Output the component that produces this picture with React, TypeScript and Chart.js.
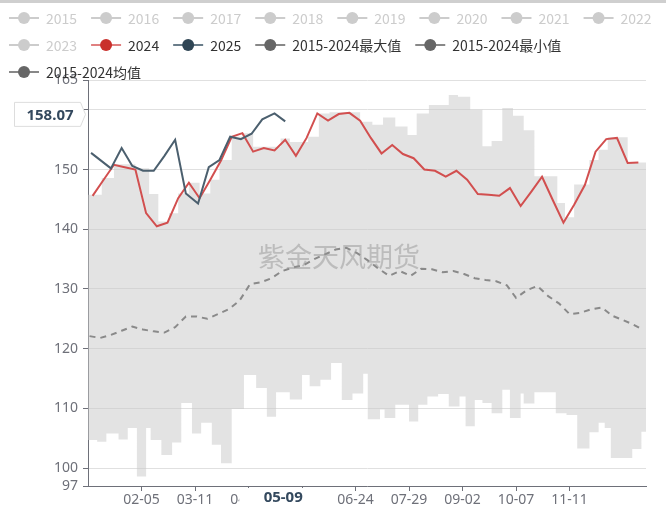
import React, { useEffect, useRef } from 'react';
import { Chart, registerables } from 'chart.js';

Chart.register(...registerables);

const FONT = '"Noto Sans", "Noto Sans CJK SC", sans-serif';
const CJK = '"Noto Sans CJK SC", "Noto Sans", sans-serif';

// x axis: day index within a (leap) year, 0 = 01-01
const tickDays = [35, 70, 105, 140, 175, 210, 245, 280, 315];
const tickLabels = ['02-05', '03-11', '04-15', '05-20', '06-24', '07-29', '09-02', '10-07', '11-11'];
const yTicks = [97, 100, 110, 120, 130, 140, 150, 160, 165];

const hiddenYears = ['2015', '2016', '2017', '2018', '2019', '2020', '2021', '2022', '2023'];

const days2024 = [3, 10, 17, 24, 31, 38, 45, 52, 59, 66, 73, 80, 87, 94, 101, 108, 115, 122, 129, 136, 143, 150, 157, 164, 171, 178, 185, 192, 199, 206, 213, 220, 227, 234, 241, 248, 255, 262, 269, 276, 283, 290, 297, 304, 311, 318, 325, 332, 339, 346, 353, 360];
const values2024 = [145.6, 148.2, 150.8, 150.4, 150.0, 142.7, 140.5, 141.1, 145.2, 147.8, 145.2, 148.3, 151.5, 155.5, 156.1, 153.0, 153.6, 153.2, 155.0, 152.3, 155.3, 159.4, 158.2, 159.3, 159.5, 158.2, 155.3, 152.7, 154.1, 152.6, 151.9, 150.0, 149.8, 148.8, 149.8, 148.3, 145.9, 145.8, 145.6, 146.9, 143.9, 146.3, 148.8, 144.9, 141.1, 144.1, 147.4, 153.0, 155.1, 155.3, 151.1, 151.2];

const days2025 = [2, 15, 22, 29, 36, 43, 50, 57, 64, 72, 79, 86, 93, 100, 107, 114, 122, 129];
const values2025 = [152.8, 150.2, 153.6, 150.6, 149.8, 149.8, 152.3, 155.0, 146.0, 144.3, 150.4, 151.6, 155.5, 155.1, 156.0, 158.4, 159.4, 158.07];

const avgDays = [1, 8, 15, 22, 29, 36, 43, 50, 57, 64, 71, 78, 85, 92, 99, 106, 113, 120, 127, 134, 141, 148, 155, 162, 169, 176, 183, 190, 197, 204, 211, 218, 225, 232, 239, 246, 253, 260, 267, 274, 280, 287, 294, 301, 308, 315, 322, 329, 336, 343, 350, 357, 362];
const avgValues = [122.1, 121.8, 122.3, 123.0, 123.7, 123.2, 122.9, 122.7, 123.6, 125.4, 125.4, 125.0, 125.8, 126.6, 128.0, 130.8, 131.1, 131.8, 133.0, 133.6, 134.0, 135.0, 135.8, 136.6, 136.9, 136.0, 134.8, 133.4, 132.2, 133.0, 132.2, 133.4, 133.3, 132.8, 133.0, 132.5, 131.8, 131.5, 131.3, 130.6, 128.5, 129.8, 130.5, 128.8, 127.6, 125.8, 126.0, 126.6, 126.9, 125.5, 124.8, 124.0, 123.3];

const maxDays = [0, 9, 17, 31, 40, 46, 53, 59, 66, 73, 80, 86, 94, 101, 108, 126, 132, 144, 151, 158, 178, 186, 193, 201, 209, 215, 223, 236, 242, 250, 258, 264, 271, 278, 285, 292, 307, 312, 318, 328, 334, 340, 353, 365];
const maxValues = [145.8, 148.6, 150.9, 150.2, 145.9, 141.3, 142.7, 146.0, 147.8, 146.0, 148.3, 151.6, 155.5, 156.1, 153.8, 155.2, 154.6, 155.5, 159.4, 159.6, 158.0, 157.5, 158.7, 157.2, 155.8, 159.4, 160.8, 162.5, 162.2, 160.0, 153.9, 154.8, 160.3, 159.0, 156.6, 148.9, 144.4, 142.0, 147.5, 151.6, 153.3, 155.4, 151.2, 151.2];

const minDays = [0, 6, 12, 20, 26, 32, 38, 41, 48, 55, 61, 68, 74, 81, 87, 94, 102, 110, 117, 123, 132, 140, 145, 152, 159, 166, 173, 180, 183, 191, 194, 201, 210, 216, 222, 229, 236, 243, 247, 253, 258, 264, 271, 276, 283, 285, 292, 306, 313, 320, 328, 334, 338, 342, 356, 362, 365];
const minValues = [104.7, 104.4, 105.8, 104.8, 106.7, 98.6, 106.7, 104.7, 102.2, 104.3, 110.9, 105.8, 107.6, 103.9, 100.8, 109.9, 115.6, 113.4, 108.6, 112.7, 111.5, 115.6, 113.7, 114.8, 117.6, 111.4, 112.5, 115.8, 108.2, 109.8, 108.4, 110.6, 107.8, 110.6, 112.0, 112.4, 110.3, 112.0, 107.0, 111.4, 110.9, 109.2, 113.1, 108.4, 112.5, 110.8, 112.7, 109.2, 108.9, 103.3, 106.0, 107.6, 106.7, 101.7, 103.2, 106.1, 106.1];

const pointerDay = 129;
const pointerDayLabel = '05-09';
const pointerValue = 158.07;
const watermark = '紫金天风期货';

const pts = (d: number[], v: number[]) => d.map((x, i) => ({ x, y: v[i] }));

const overlayPlugin = {
  id: 'overlay',
  afterDatasetsDraw(chart: any) {
    const { ctx, chartArea } = chart;
    ctx.save();
    ctx.font = `27px ${CJK}`;
    ctx.fillStyle = 'rgba(150,150,150,0.5)';
    ctx.textAlign = 'center';
    ctx.textBaseline = 'middle';
    ctx.fillText(watermark, chartArea.left + 251, 257);
    ctx.restore();
  },
  afterDraw(chart: any) {
    const { ctx, scales } = chart;
    ctx.save();
    // top border
    ctx.fillStyle = '#cfcfcf';
    ctx.fillRect(0, 0, chart.width, 3);

    // legend
    ctx.font = `14px ${CJK}`;
    ctx.textBaseline = 'middle';
    ctx.textAlign = 'left';
    let x = 9;
    let row = 0;
    chart.data.datasets.forEach((ds: any, i: number) => {
      const active = chart.isDatasetVisible(i);
      const tw = ctx.measureText(ds.label).width;
      const w = 37 + tw;
      if (x + w > 660 && x > 9) {
        row++;
        x = 9;
      }
      const y = 18 + row * 27;
      const c = active ? ds.legendColor : '#cccccc';
      ctx.strokeStyle = active ? ds.legendLine : '#cccccc';
      ctx.lineWidth = 2;
      ctx.beginPath();
      ctx.moveTo(x, y);
      ctx.lineTo(x + 30, y);
      ctx.stroke();
      ctx.fillStyle = c;
      ctx.beginPath();
      ctx.arc(x + 15, y, 6, 0, Math.PI * 2);
      ctx.fill();
      ctx.fillStyle = active ? '#333333' : '#cccccc';
      ctx.fillText(ds.label, x + 37, y + 1);
      x += w + 14;
    });

    // axis pointer labels
    const px = scales.x.getPixelForValue(pointerDay);
    ctx.fillStyle = '#ffffff';
    ctx.fillRect(px - 46, 488, 88, 20);
    ctx.font = `bold 15px ${FONT}`;
    ctx.textAlign = 'center';
    ctx.fillStyle = '#34495e';
    ctx.fillText(pointerDayLabel, px - 2, 498);

    const py = scales.y.getPixelForValue(pointerValue) - 7;
    ctx.beginPath();
    ctx.moveTo(14.5, py - 12);
    ctx.lineTo(80.5, py - 12);
    ctx.lineTo(85.5, py);
    ctx.lineTo(80.5, py + 12);
    ctx.lineTo(14.5, py + 12);
    ctx.closePath();
    ctx.fillStyle = '#ffffff';
    ctx.fill();
    ctx.strokeStyle = '#dddddd';
    ctx.lineWidth = 1;
    ctx.stroke();
    ctx.fillStyle = '#34495e';
    ctx.fillText(pointerValue.toFixed(2), 50, py + 1);
    ctx.restore();
  },
};

export default function App() {
  const ref = useRef<HTMLCanvasElement>(null);
  useEffect(() => {
    document.body.style.margin = '0';
    const yearSets = hiddenYears.map((y) => ({
      label: y,
      data: [] as any[],
      hidden: true,
      legendColor: '#cccccc',
      legendLine: '#cccccc',
    }));
    const chart = new Chart(ref.current as HTMLCanvasElement, {
      type: 'line',
      data: {
        datasets: [
          ...yearSets,
          {
            label: '2024',
            data: pts(days2024, values2024),
            borderColor: '#d24f4f',
            borderWidth: 2,
            pointRadius: 0,
            order: 1,
            legendColor: '#c9302c',
            legendLine: '#e08080',
          },
          {
            label: '2025',
            data: pts(days2025, values2025),
            borderColor: '#4b5f6e',
            borderWidth: 2,
            pointRadius: 0,
            order: 0,
            legendColor: '#2f4554',
            legendLine: '#6a7d8a',
          },
          {
            label: '2015-2024最大值',
            data: pts(maxDays, maxValues),
            borderWidth: 0,
            borderColor: 'rgba(0,0,0,0)',
            backgroundColor: 'rgba(200,200,200,0.5)',
            stepped: 'before',
            fill: '+1',
            pointRadius: 0,
            order: 3,
            legendColor: '#666666',
            legendLine: '#888888',
          },
          {
            label: '2015-2024最小值',
            data: pts(minDays, minValues),
            borderWidth: 0,
            borderColor: 'rgba(0,0,0,0)',
            stepped: 'before',
            fill: false,
            pointRadius: 0,
            order: 4,
            legendColor: '#666666',
            legendLine: '#888888',
          },
          {
            label: '2015-2024均值',
            data: pts(avgDays, avgValues),
            borderColor: '#8a8a8a',
            borderWidth: 2,
            borderDash: [6, 5],
            pointRadius: 0,
            order: 2,
            legendColor: '#666666',
            legendLine: '#888888',
          },
        ] as any,
      },
      options: {
        responsive: false,
        animation: false,
        devicePixelRatio: 1,
        layout: { padding: { top: 80, left: 8, right: 20, bottom: 0 } },
        plugins: { legend: { display: false }, tooltip: { enabled: false } },
        scales: {
          x: {
            type: 'linear',
            min: 0,
            max: 365,
            afterBuildTicks: (s: any) => {
              s.ticks = tickDays.map((v) => ({ value: v }));
            },
            afterFit: (s: any) => {
              s.height = 22;
            },
            ticks: {
              autoSkip: false,
              maxRotation: 0,
              padding: 1,
              color: '#6e7079',
              font: { size: 14, family: FONT },
              callback: (_v: any, i: number) => tickLabels[i],
            },
            grid: { drawOnChartArea: false, drawTicks: true, tickLength: 5, tickColor: '#6e7079' },
            border: { display: true, color: '#6e7079' },
          },
          y: {
            type: 'linear',
            min: 97,
            max: 165,
            afterBuildTicks: (s: any) => {
              s.ticks = yTicks.map((v) => ({ value: v }));
            },
            afterFit: (s: any) => {
              s.width = 80;
            },
            ticks: {
              autoSkip: false,
              padding: 5,
              color: '#6e7079',
              font: { size: 14, family: FONT },
              callback: (v: any) => String(v),
            },
            grid: { color: '#e0e0e0', drawTicks: true, tickLength: 5, tickColor: '#6e7079' },
            border: { display: true, color: '#6e7079' },
          },
        },
      } as any,
      plugins: [overlayPlugin],
    });
    return () => chart.destroy();
  }, []);
  return (
    <div style={{ position: 'absolute', left: 0, top: 0, width: 666, height: 508 }}>
      <canvas ref={ref} width={666} height={508} style={{ display: 'block' }} />
    </div>
  );
}
